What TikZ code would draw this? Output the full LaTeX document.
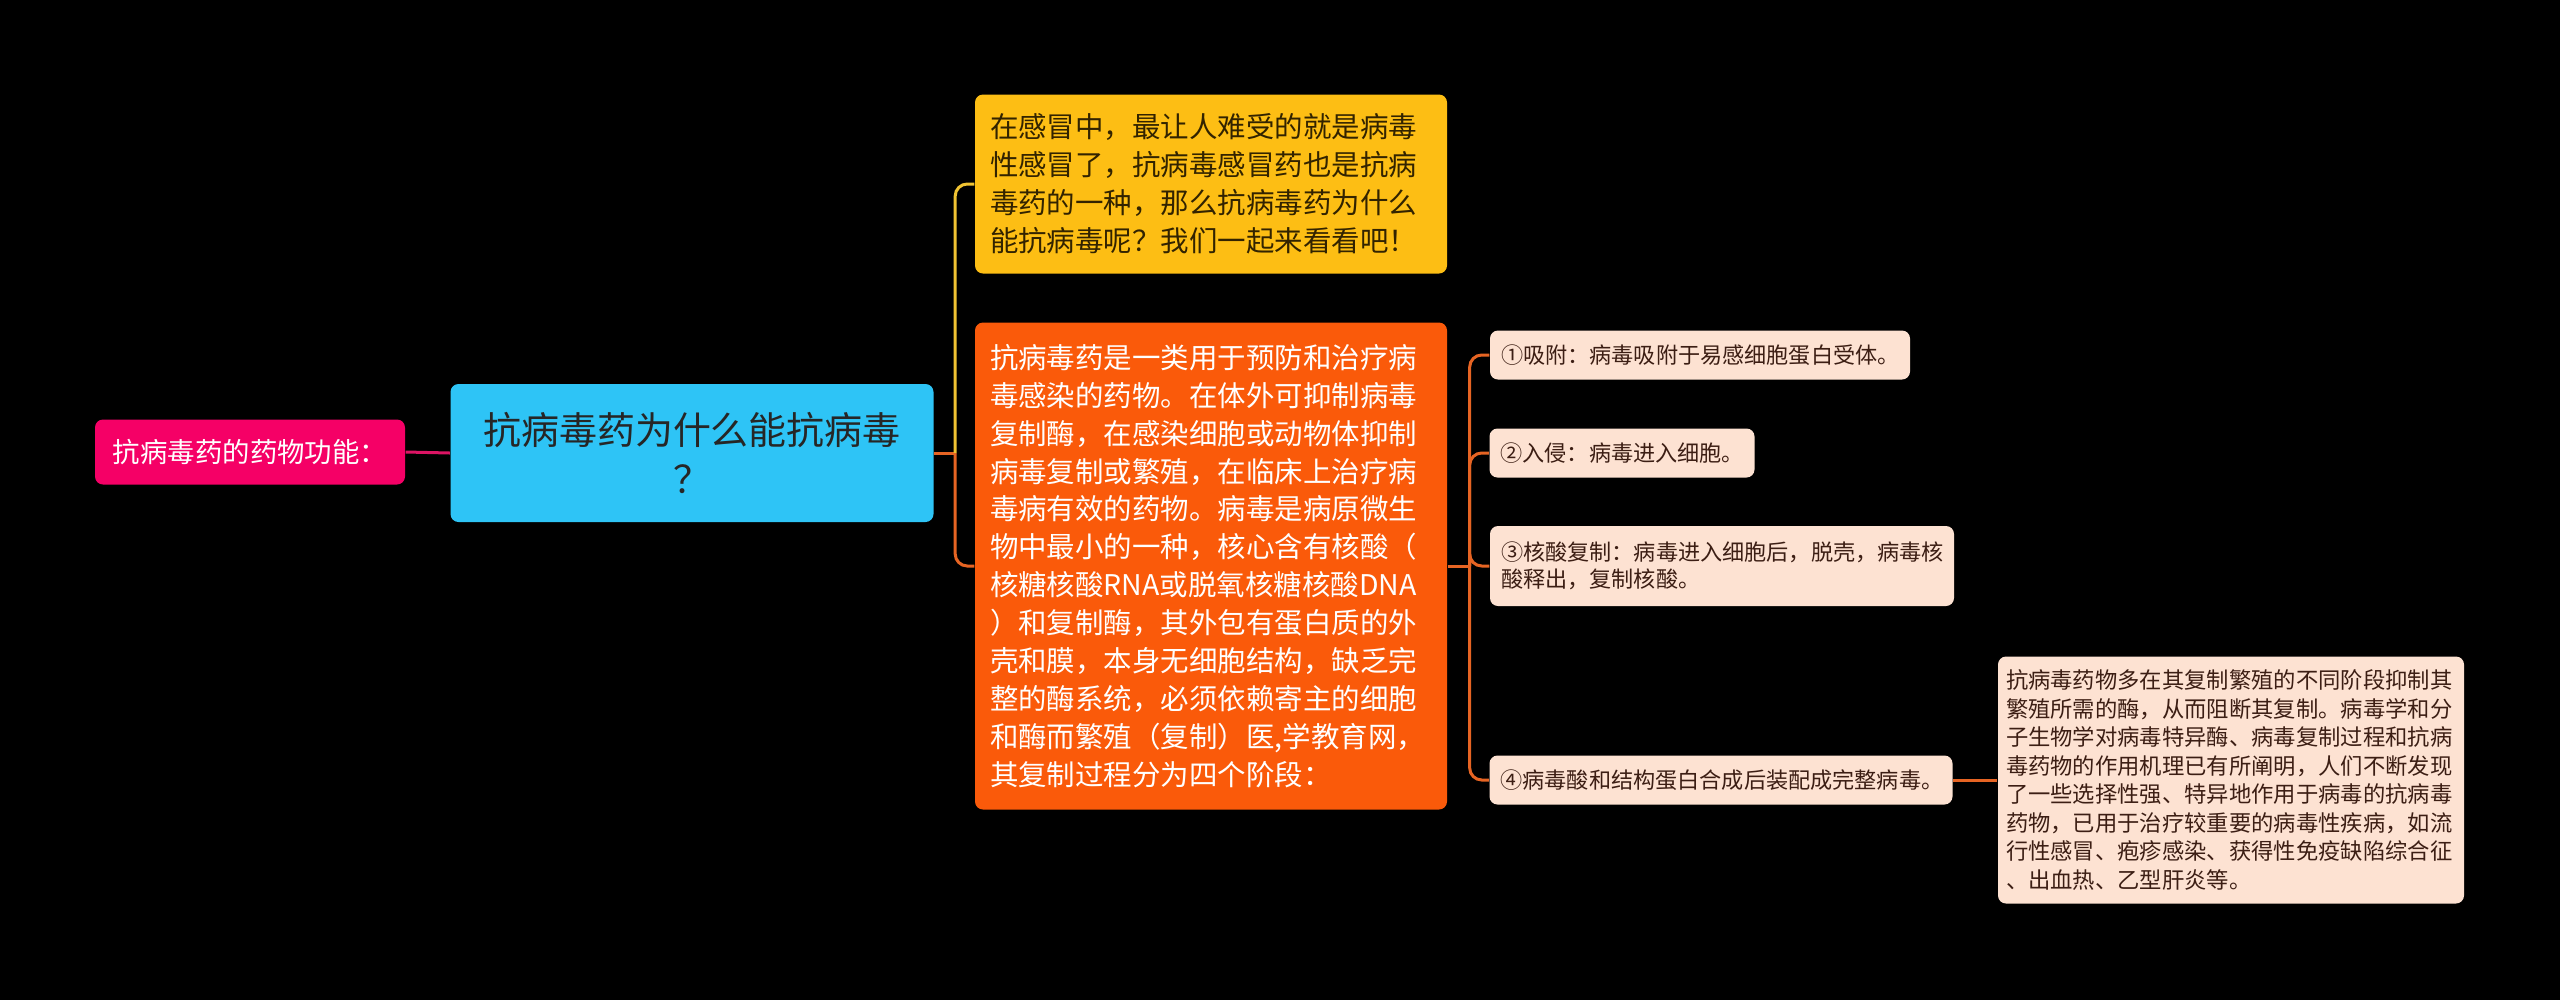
\documentclass[tikz,border=0pt]{standalone}
\usepackage{fontspec}
\setmainfont{Noto Sans CJK SC}
\definecolor{pinkbox}{RGB}{245,0,102}
\definecolor{pinkline}{RGB}{220,20,100}
\definecolor{bluebox}{RGB}{46,196,246}
\definecolor{yellowbox}{RGB}{253,190,20}
\definecolor{yellowline}{RGB}{240,195,50}
\definecolor{orangebox}{RGB}{250,90,10}
\definecolor{orangeline}{RGB}{230,100,35}
\definecolor{peach}{RGB}{253,226,210}
\definecolor{peachtext}{RGB}{60,30,20}

\begin{document}
\begin{tikzpicture}[x=0.1mm,y=-0.1mm,
box/.style={rounded corners=0.8mm, inner ysep=0pt},
link/.style={line width=0.3mm, rounded corners=1.2mm},
topic/.style={box, fill=pinkbox, text=white, minimum width=31mm, minimum height=6.5mm,
  font=\fontsize{7.8}{9}\selectfont},
central/.style={box, fill=bluebox, text=black!85, align=center, text width=44mm,
  inner xsep=2.15mm, minimum height=13.8mm, font=\fontsize{10.8}{13.9}\selectfont},
branch/.style={box, align=left, text width=44.2mm, inner xsep=1.5mm,
  font=\fontsize{8.1}{10.8}\selectfont},
stage/.style={box, fill=peach, text=peachtext, align=left, inner xsep=1.1mm,
  minimum height=4.9mm, font=\fontsize{6.3}{7.7}\selectfont}]
\fill[black] (0,0) rectangle (2560,1000);

\node[topic] (func) at (250,452) {抗病毒药的药物功能：};
\node[central] (q) at (692,453) {抗病毒药为什么能抗病毒\\？};

\node[branch, fill=yellowbox, text={rgb,255:red,50;green,35;blue,0}, minimum height=17.9mm]
  (intro) at (1211,184) {在感冒中，最让人难受的就是病毒\\性感冒了，抗病毒感冒药也是抗病\\毒药的一种，那么抗病毒药为什么\\能抗病毒呢？我们一起来看看吧！};
\node[branch, fill=orangebox, text=white, minimum height=48.7mm]
  (defn) at (1211,566) {抗病毒药是一类用于预防和治疗病\\毒感染的药物。在体外可抑制病毒\\复制酶，在感染细胞或动物体抑制\\病毒复制或繁殖，在临床上治疗病\\毒病有效的药物。病毒是病原微生\\物中最小的一种，核心含有核酸（\\核糖核酸RNA或脱氧核糖核酸DNA\\）和复制酶，其外包有蛋白质的外\\壳和膜，本身无细胞结构，缺乏完\\整的酶系统，必须依赖寄主的细胞\\和酶而繁殖（复制）医,学教育网，\\其复制过程分为四个阶段：};

\node[stage, text width=39.8mm] (s1) at (1700,355) {①吸附：病毒吸附于易感细胞蛋白受体。};
\node[stage, text width=24.3mm] (s2) at (1622,453) {②入侵：病毒进入细胞。};
\node[stage, text width=44.2mm, minimum height=8mm] (s3) at (1722,566) {③核酸复制：病毒进入细胞后，脱壳，病毒核\\酸释出，复制核酸。};
\node[stage, text width=44.1mm] (s4) at (1721,780) {④病毒酸和结构蛋白合成后装配成完整病毒。};

\node[stage, text width=45mm, inner xsep=0.8mm, minimum height=24.7mm,
  font=\fontsize{6.35}{8.1}\selectfont]
  (note) at (2231,780) {抗病毒药物多在其复制繁殖的不同阶段抑制其\\繁殖所需的酶，从而阻断其复制。病毒学和分\\子生物学对病毒特异酶、病毒复制过程和抗病\\毒药物的作用机理已有所阐明，人们不断发现\\了一些选择性强、特异地作用于病毒的抗病毒\\药物，已用于治疗较重要的病毒性疾病，如流\\行性感冒、疱疹感染、获得性免疫缺陷综合征\\、出血热、乙型肝炎等。};

\draw[link, pinkline] (func.east) -- (q.west);
\draw[link, orangeline] (q.east) -- ++(21,0) coordinate (qj);
\draw[link, yellowline] (qj) |- (intro.west);
\draw[link, orangeline] (qj) |- (defn.west);
\draw[link, orangeline] (defn.east) -- ++(22,0) coordinate (dj);
\foreach \s in {s1,s2,s3,s4}
  \draw[link, orangeline] (dj) |- (\s.west);
\draw[link, orangeline] (s4.east) -- (note.west);
\end{tikzpicture}
\end{document}
